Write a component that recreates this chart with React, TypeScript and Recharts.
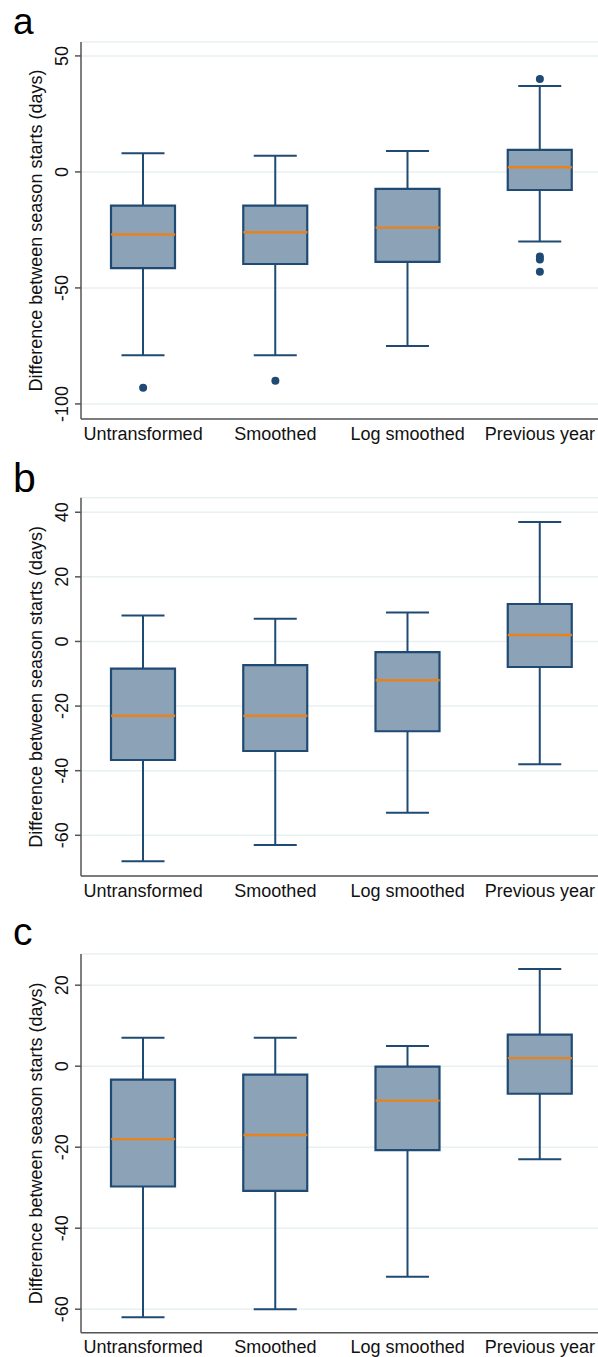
import React from "react";
import {
  ComposedChart,
  Bar,
  Line,
  XAxis,
  YAxis,
  CartesianGrid,
  Label,
} from "recharts";

const categories = ["Untransformed", "Smoothed", "Log smoothed", "Previous year"];

// Panel a
const aLower = [-79, -79, -75, -30];
const aQ1 = [-41.5, -39.7, -38.8, -7.8];
const aMedian = [-27, -26, -24, 2];
const aQ3 = [-14.5, -14.5, -7.3, 9.5];
const aUpper = [8, 7, 9, 37];
const aOutliers: number[][] = [[-93], [-90], [], [40, -36.5, -37.8, -43]];
const aTicks = [-100, -50, 0, 50];
const aDomain = [-106.5, 56];

// Panel b
const bLower = [-68, -63, -53, -38];
const bQ1 = [-36.7, -33.9, -27.8, -7.9];
const bMedian = [-23, -23, -12, 2];
const bQ3 = [-8.4, -7.3, -3.3, 11.6];
const bUpper = [8, 7, 9, 37];
const bOutliers: number[][] = [[], [], [], []];
const bTicks = [-60, -40, -20, 0, 20, 40];
const bDomain = [-72.6, 44.5];

// Panel c
const cLower = [-62, -60, -52, -23];
const cQ1 = [-29.7, -30.8, -20.7, -6.8];
const cMedian = [-18, -17, -8.5, 2];
const cQ3 = [-3.3, -2.1, -0.1, 7.8];
const cUpper = [7, 7, 5, 24];
const cOutliers: number[][] = [[], [], [], []];
const cTicks = [-60, -40, -20, 0, 20];
const cDomain = [-65.8, 27.7];

const FONT = "'Liberation Sans', Arial, Helvetica, sans-serif";
const BOX_FILL = "#8CA2B6";
const BOX_STROKE = "#1F4A73";
const MEDIAN = "#E8821E";
const GRID = "#E8F0F2";
const AXIS = "#555555";

function buildRows(
  lower: number[],
  q1: number[],
  median: number[],
  q3: number[],
  upper: number[],
  outliers: number[][]
) {
  return categories.map((name, i) => ({
    name,
    whisker: [lower[i], upper[i]],
    box: [q1[i], q3[i]],
    median: median[i],
    o1: outliers[i][0] ?? null,
    o2: outliers[i][1] ?? null,
    o3: outliers[i][2] ?? null,
    o4: outliers[i][3] ?? null,
  }));
}

const WhiskerShape = (props: any) => {
  const { x, y, width, height } = props;
  if (x == null || y == null) return <g />;
  const cx = x + width / 2;
  const half = 21.5;
  return (
    <g>
      <line x1={cx} x2={cx} y1={y} y2={y + height} stroke={BOX_STROKE} strokeWidth={2} />
      <line x1={cx - half} x2={cx + half} y1={y} y2={y} stroke={BOX_STROKE} strokeWidth={2} />
      <line
        x1={cx - half}
        x2={cx + half}
        y1={y + height}
        y2={y + height}
        stroke={BOX_STROKE}
        strokeWidth={2}
      />
    </g>
  );
};

const MedianDot = (props: any) => {
  const { cx, cy, index } = props;
  if (cx == null || cy == null) return <g key={`m${index}`} />;
  return (
    <line
      key={`m${index}`}
      x1={cx - 32}
      x2={cx + 32}
      y1={cy}
      y2={cy}
      stroke={MEDIAN}
      strokeWidth={2.4}
    />
  );
};

const OutlierDot = (props: any) => {
  const { cx, cy, value, index, dataKey } = props;
  if (value == null || cx == null || cy == null || isNaN(cy))
    return <g key={`${dataKey}${index}`} />;
  return <circle key={`${dataKey}${index}`} cx={cx} cy={cy} r={4} fill={BOX_STROKE} />;
};

const YTick = (props: any) => {
  const { y, payload } = props;
  const bx = 68;
  return (
    <text
      x={bx}
      y={y}
      transform={`rotate(-90 ${bx} ${y})`}
      textAnchor="middle"
      fontSize={18}
      fontFamily={FONT}
      fill="#111"
    >
      {payload.value}
    </text>
  );
};

const YLabelContent = (props: any) => {
  const vb = props.viewBox || {};
  const cy = vb.y + vb.height / 2;
  const bx = 42;
  return (
    <text
      x={bx}
      y={cy}
      transform={`rotate(-90 ${bx} ${cy})`}
      textAnchor="middle"
      fontSize={18}
      fontFamily={FONT}
      fill="#111"
    >
      Difference between season starts (days)
    </text>
  );
};

type PanelProps = {
  rows: any[];
  ticks: number[];
  domain: number[];
  height: number;
  top: number;
  marginTop: number;
  xAxisHeight: number;
};

const Panel = ({ rows, ticks, domain, height, top, marginTop, xAxisHeight }: PanelProps) => (
  <div style={{ position: "absolute", left: 0, top, width: 598, height }}>
    <ComposedChart
      width={598}
      height={height}
      data={rows}
      margin={{ top: marginTop, right: 0, bottom: 0, left: 0 }}
    >
      <CartesianGrid vertical={false} stroke={GRID} strokeWidth={1.5} />
      <XAxis
        dataKey="name"
        xAxisId="main"
        height={xAxisHeight}
        padding={{ left: -4, right: -8 }}
        axisLine={{ stroke: AXIS, strokeWidth: 1.5 }}
        tickLine={false}
        tickSize={0}
        tickMargin={8}
        interval={0}
        tick={{ fontSize: 18, fontFamily: FONT, fill: "#111" }}
      />
      <XAxis
        dataKey="name"
        xAxisId="w"
        hide
        padding={{ left: -4, right: -8 }}
      />
      <YAxis
        type="number"
        domain={domain}
        ticks={ticks}
        width={81}
        allowDataOverflow
        axisLine={{ stroke: AXIS, strokeWidth: 1.5 }}
        tickLine={{ stroke: AXIS, strokeWidth: 1.5 }}
        tickSize={6}
        tickMargin={2}
        tick={<YTick />}
      >
        <Label content={<YLabelContent />} />
      </YAxis>
      <Bar
        dataKey="whisker"
        xAxisId="w"
        barSize={64}
        shape={<WhiskerShape />}
        isAnimationActive={false}
      />
      <Bar
        dataKey="box"
        xAxisId="main"
        barSize={64}
        fill={BOX_FILL}
        stroke={BOX_STROKE}
        strokeWidth={2.2}
        isAnimationActive={false}
      />
      <Line
        dataKey="median"
        xAxisId="main"
        stroke="none"
        dot={<MedianDot />}
        activeDot={false}
        isAnimationActive={false}
      />
      {["o1", "o2", "o3", "o4"].map((k) => (
        <Line
          key={k}
          dataKey={k}
          xAxisId="main"
          stroke="none"
          dot={<OutlierDot />}
          activeDot={false}
          connectNulls={false}
          isAnimationActive={false}
        />
      ))}
    </ComposedChart>
  </div>
);

export default function App() {
  const aRows = buildRows(aLower, aQ1, aMedian, aQ3, aUpper, aOutliers);
  const bRows = buildRows(bLower, bQ1, bMedian, bQ3, bUpper, bOutliers);
  const cRows = buildRows(cLower, cQ1, cMedian, cQ3, cUpper, cOutliers);
  return (
    <div
      style={{
        position: "absolute",
        left: 0,
        top: 0,
        width: 598,
        height: 1357,
        background: "#fff",
        overflow: "hidden",
      }}
    >
      <Panel rows={aRows} ticks={aTicks} domain={aDomain} top={0} height={450} marginTop={42} xAxisHeight={31} />
      <Panel rows={bRows} ticks={bTicks} domain={bDomain} top={450} height={460} marginTop={47.7} xAxisHeight={34} />
      <Panel rows={cRows} ticks={cTicks} domain={cDomain} top={910} height={447} marginTop={44} xAxisHeight={24.3} />
      <svg
        width={598}
        height={1357}
        style={{ position: "absolute", left: 0, top: 0, pointerEvents: "none" }}
      >
        <text x={13} y={34} fontSize={37} fontFamily={FONT} fill="#000">a</text>
        <text x={13} y={492} fontSize={41} fontFamily={FONT} fill="#000">b</text>
        <text x={13} y={945} fontSize={39} fontFamily={FONT} fill="#000">c</text>
      </svg>
    </div>
  );
}
